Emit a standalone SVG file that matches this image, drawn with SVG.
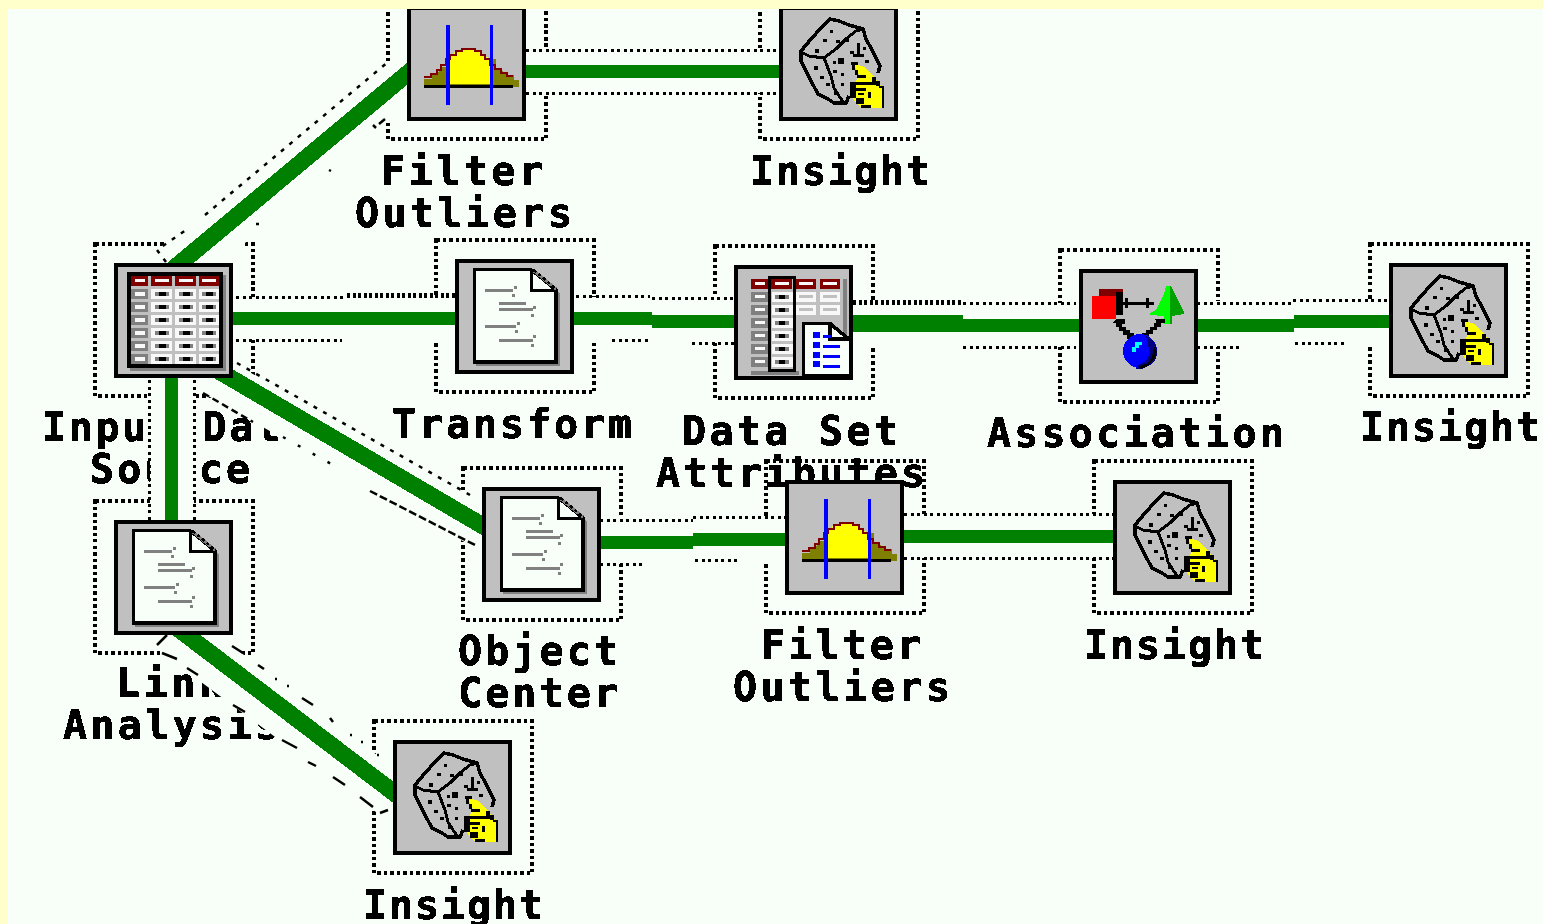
<svg xmlns="http://www.w3.org/2000/svg" width="1543" height="924" viewBox="0 0 1543 924">
<style>
.lb{font-family:"DejaVu Sans Mono","Liberation Mono",monospace;font-weight:bold;font-size:40px;fill:#000;stroke:#000;stroke-width:.7;filter:url(#px)}
.box{fill:#c0c0c0;stroke:#000;stroke-width:4}
.dr{fill:none;stroke:#000;stroke-width:3.5;stroke-dasharray:3.5 3;shape-rendering:crispEdges}
.dl{fill:none;stroke:#000;stroke-width:3;stroke-dasharray:3 3.5;shape-rendering:crispEdges}
.dn{fill:none;stroke:#000;stroke-width:5;stroke-dasharray:3 2.5;shape-rendering:crispEdges}
.sg{fill:none;stroke:#000;stroke-width:2.5}
.bd{fill:#f8fff8;stroke:none}
.gr{fill:#008000;stroke:none}
.gl{fill:none;stroke:#008000;stroke-width:17;shape-rendering:crispEdges}
.ic{shape-rendering:crispEdges}
</style>
<defs>
<filter id="px" x="-5%" y="-10%" width="110%" height="120%"><feComponentTransfer><feFuncA type="discrete" tableValues="0 1"/></feComponentTransfer></filter>
<rect id="dot" class="dr" x="-20" y="-20" width="158" height="152"/>
<rect id="frame" class="box ic" x="1" y="1" width="115" height="111"/>
<g id="row1"><rect x="16" width="17" height="10" fill="#808080"/><rect x="20" y="3" width="10" height="4" fill="#f8f8f8"/><rect x="36" width="21" height="10" fill="#f8f8f8"/><rect x="60" width="21" height="10" fill="#f8f8f8"/><rect x="84" width="20" height="10" fill="#f8f8f8"/><g id="dash"><rect x="40" y="3" width="14" height="4" fill="#808080"/><rect x="44" y="3" width="7" height="4" fill="#000"/></g><use href="#dash" x="24"/><use href="#dash" x="47"/></g>
<g id="table" class="ic"><use href="#frame"/>
<rect x="15" y="11" width="96" height="96" fill="#808080"/><rect x="12" y="8" width="96" height="96" fill="#000"/><rect x="16" y="12" width="88" height="88" fill="#c0c0c0"/>
<rect x="16" y="12" width="17" height="10" fill="#800000"/><rect x="36" y="12" width="21" height="10" fill="#800000"/><rect x="60" y="12" width="21" height="10" fill="#800000"/><rect x="84" y="12" width="20" height="10" fill="#800000"/>
<rect x="20" y="15" width="10" height="3" fill="#f8f8f8"/><rect x="40" y="15" width="14" height="3" fill="#f8f8f8"/><rect x="64" y="15" width="14" height="3" fill="#f8f8f8"/><rect x="87" y="15" width="14" height="3" fill="#f8f8f8"/>
<use href="#row1" y="25"/><use href="#row1" y="38"/><use href="#row1" y="51"/><use href="#row1" y="64"/><use href="#row1" y="77"/><use href="#row1" y="90"/>
</g>
<g id="doc" class="ic"><use href="#frame"/>
<path d="M20 14H75L104 33V106H20Z" fill="#808080"/>
<path d="M18.500 9.500H75L100 30V102H18.500Z" fill="#f8fff8" stroke="#000" stroke-width="3.400"/>
<path d="M75 9.500V30H100" fill="none" stroke="#000" stroke-width="3"/>
<path d="M78 11L100 29" fill="none" stroke="#808080" stroke-width="3"/>
<path d="M78 10L100 29" fill="none" stroke="#000" stroke-width="2.500" stroke-dasharray="3 3"/>
<path d="M29 29h28v3h-28zM43 42h27v3h-27zM43 48h34v3h-34zM29 65h31v3h-31zM43 79h34v3h-34zM58 26h3v3h-3zM56 34h3v3h-3zM77 46h3v3h-3zM75 54h3v3h-3zM61 62h3v3h-3zM59 70h3v3h-3zM77 75h3v3h-3zM75 84h3v3h-3z" fill="#808080"/>
</g>
<g id="bell" class="ic"><use href="#frame"/>
<path d="M16 72h8v-6h6l4-6h4v-8l8-4h6v-4h14v3h6l4 5h12v11h6l4 5h8v5h5v7H16Z" fill="#808000"/>
<path d="M38 77V52l4-4h4v-3h6v-2l14-1v3h6l5 5 5 1v26Z" fill="#ffff00"/>
<path d="M16 70h7v-3h6v-4h4v-5h5v-6h4v-4h6v-4h6v-2h13v2h6v4h4v4h5v6h5v4h6v4h6v3h6" fill="none" stroke="#800000" stroke-width="2.500"/>
<rect x="16" y="78" width="89" height="3" fill="#000"/>
<rect x="38" y="18" width="4" height="80" fill="#0000ff"/><rect x="82" y="18" width="3" height="80" fill="#0000ff"/>
</g>
<g id="dice" class="ic"><use href="#frame"/>
<path d="M69 89L66 96H54L48 92 38 87 31 74 26 64 21 54V44L31 32 41 21 50 12 59 14 69 18 83 22 86 32 91 41 96 51 100 59 98 66" fill="none" stroke="#000" stroke-width="3.500"/>
<path d="M21 45L29 49 44 51 56 42 66 32 76 24 83 22M44 51L51 69 54 81 59 89 64 96" fill="none" stroke="#000" stroke-width="3"/>
<path d="M77 36h3v11h-3zM73 47h11v3h-11zM58 51h6v6h-6zM50 23h3v3h-3zM43 32h4v3h-4zM56 33h4v3h-4zM35 42h4v4h-4zM66 32h3v3h-3zM70 44h4v3h-4zM85 53h4v3h-4zM53 54h3v3h-3zM34 59h4v4h-4zM53 63h4v3h-4zM61 66h3v3h-3zM40 69h4v3h-4zM61 76h3v3h-3zM46 76h4v3h-4zM54 85h3v3h-3zM83 40h3v3h-3z" fill="#000"/>
<path d="M73 56L84 60 96 72 103 82V101H81L74 93 71 84 76 74 79 68Z" fill="#ffff00"/>
<path d="M71 55h7v3h-7zM72 58h3v5h-3zM75 63h3v5h-3zM77 68h9v3h-9zM74 75h25v3H74zM70 75h6v16h-6zM76 91h8v6h-8zM81 98h10v3H81zM76 81h10v3H76zM78 86h6v2h-6zM88 85h3v6h-3zM92 70h4v5h-4zM96 74h4v5h-4zM99 79h5v22h-2V81h-3z" fill="#000"/>
</g>
<g id="dataset" class="ic"><use href="#frame"/>
<rect x="16" y="13" width="17" height="10" fill="#800000"/><rect x="33" y="13" width="24" height="10" fill="#800000"/><rect x="61" y="13" width="20" height="10" fill="#800000"/><rect x="85" y="13" width="20" height="10" fill="#800000"/>
<path d="M20 16h10v3H20zM40 16h14v3H40zM64 16h14v3H64zM88 16h14v3H88z" fill="#f8f8f8"/>
<rect x="108" y="13" width="4" height="60" fill="#808080"/>
<rect x="16" y="105" width="48" height="4" fill="#808080"/>
<g id="dr"><rect x="16" y="26" width="17" height="10" fill="#808080"/><rect x="20" y="29" width="10" height="3" fill="#f8f8f8"/><rect x="37" y="26" width="21" height="10" fill="#f8f8f8"/><rect x="40" y="29" width="14" height="4" fill="#808080"/><rect x="44" y="29" width="6" height="4" fill="#000"/></g>
<use href="#dr" y="13"/><use href="#dr" y="26"/><use href="#dr" y="39"/><use href="#dr" y="52"/><use href="#dr" y="65"/>
<path d="M61 26h20v10H61zM85 26h20v10H85zM61 39h20v10H61zM85 39h20v10H85z" fill="#f8f8f8"/>
<path d="M64 29h14v3H64zM88 29h14v3H88zM64 42h14v3H64zM88 42h14v3H88zM61 62h6v3h-6zM61 75h6v3h-6zM61 88h6v3h-6z" fill="#c0c0c0"/>
<rect x="34.500" y="11.500" width="25" height="93" fill="none" stroke="#000" stroke-width="3.500"/>
<path d="M68.500 57.500H95L116 75V110H68.500Z" fill="#f8fff8" stroke="#000" stroke-width="3.500"/>
<path d="M95 57V73H116" fill="none" stroke="#000" stroke-width="3.500"/>
<path d="M98 60L114 72" fill="none" stroke="#000" stroke-width="2.500" stroke-dasharray="3 3"/>
<path d="M78 66h7v6h-7zM78 76h7v6h-7zM78 86h7v6h-7zM78 95h7v6h-7zM88 69h8v3h-8zM88 79h17v3H88zM88 89h17v3H88zM88 99h17v3H88z" fill="#0000ff"/>
</g>
<g id="assoc" class="ic"><use href="#frame"/>
<path d="M19 26V19H43V26Z" fill="#800000"/><rect x="12" y="26" width="24" height="23" fill="#ff0000"/><rect x="36" y="22" width="7" height="23" fill="#000"/>
<path d="M43 32h31v3H43zM45 28h3v10h-3zM66 28h3v10h-3z" fill="#000"/>
<path d="M86 16h5l4 8 4 8 4 8 1 2v2l-12 2v8h-8v-8l-14-1v-2l6-3 4-8 4-8z" fill="#00ff00"/>
<path d="M91 16l4 8 4 8 4 8 1 2v2l-12 2v8h-2V16z" fill="#008000" opacity=".75"/>
<path d="M36 49h9v5h-3v3h4v3h4v3h4v6h-7v-4h-4v-4h-4v-4h-3v-4h-3zM74 49h11v4h-4v4h-4v3h-4v4h-4v5h-7v-6h4v-3h4v-3h4v-4h2v-3z" fill="#000"/>
<circle cx="60" cy="81" r="17" fill="#0000ff"/>
<path d="M66 66a17 17 0 0 1 6 28l-10 5h-6l2-4 8-4 4-8z" fill="#000080"/>
<path d="M74 76l3 6-3 8-8 7-6 2v-3l8-3 4-6z" fill="#000"/>
<path d="M55 72h7v3h-3v3h-3v4h-4v-5h3z" fill="#00ffff"/>
</g>
<clipPath id="noBoxes"><path clip-rule="evenodd" d="M0 0H1543V924H0ZM407 6h119v115h-119ZM779 6h119v115h-119ZM114 263h119v115h-119ZM455 259h119v115h-119ZM734 265h119v115h-119ZM1079 269h119v115h-119ZM1389 263h119v115h-119ZM482 487h119v115h-119ZM785 480h119v115h-119ZM1113 480h119v115h-119ZM114 520h119v115h-119ZM393 740h119v115h-119Z"/></clipPath>
</defs>
<rect id="page" width="1543" height="924" fill="#ffffcc"/>
<rect id="canvas" x="8" y="9" width="1535" height="915" fill="#f8fff8"/>

<g id="node-filter-top"><use href="#dot" x="408" y="7"/><use href="#bell" x="408" y="7"/><text class="lb" x="381" y="185" textLength="162">Filter</text><text class="lb" x="355" y="227" textLength="217">Outliers</text></g>
<g id="node-insight-top"><use href="#dot" x="780" y="7"/><use href="#dice" x="780" y="7"/><text class="lb" x="750" y="185" textLength="180">Insight</text></g>
<g id="node-input"><use href="#dot" x="115" y="264"/><use href="#table" x="115" y="264"/><text class="lb" x="42" y="441" textLength="265">Input Data</text><text class="lb" x="90" y="483" textLength="160">Source</text></g>
<g id="node-transform"><use href="#dot" x="456" y="260"/><use href="#doc" x="456" y="260"/><text class="lb" x="392" y="438" textLength="240">Transform</text></g>
<g id="node-dataset"><use href="#dot" x="735" y="266"/><use href="#dataset" x="735" y="266"/><text class="lb" x="682" y="445" textLength="216">Data Set</text><text class="lb" x="656" y="487" textLength="269">Attributes</text></g>
<g id="node-association"><use href="#dot" x="1080" y="270"/><use href="#assoc" x="1080" y="270"/><text class="lb" x="987" y="447" textLength="297">Association</text></g>
<g id="node-insight-right"><use href="#dot" x="1390" y="264"/><use href="#dice" x="1390" y="264"/><text class="lb" x="1360" y="441" textLength="180">Insight</text></g>
<g id="node-object"><use href="#dot" x="483" y="488"/><use href="#doc" x="483" y="488"/><text class="lb" x="458" y="665" textLength="160">Object</text><text class="lb" x="458" y="707" textLength="160">Center</text></g>
<g id="node-filter-mid"><use href="#dot" x="786" y="481"/><use href="#bell" x="786" y="481"/><text class="lb" x="761" y="659" textLength="160">Filter</text><text class="lb" x="733" y="701" textLength="217">Outliers</text></g>
<g id="node-insight-mid"><use href="#dot" x="1114" y="481"/><use href="#dice" x="1114" y="481"/><text class="lb" x="1084" y="659" textLength="180">Insight</text></g>
<g id="node-link"><use href="#dot" x="115" y="521"/><use href="#doc" x="115" y="521"/><text class="lb" x="116" y="697" textLength="107">Link</text><text class="lb" x="63" y="739" textLength="216">Analysis</text></g>
<g id="node-insight-bottom"><use href="#dot" x="394" y="741"/><use href="#dice" x="394" y="741"/><text class="lb" x="363" y="919" textLength="180">Insight</text></g>

<g id="connectors" clip-path="url(#noBoxes)">
<g id="bands">
<path class="bd" d="M165 264L157 250L388 62H408V120H380L222 264Z"/>
<path class="bd" d="M233 363L470 495H483V548H475L203 393L190 378H233Z"/>
<path class="bd" d="M165 634H232V646L377 755H394V815H380L162 653Z"/>
<rect class="bd" x="150" y="377" width="44" height="144"/>
<rect class="bd" x="233" y="297" width="223" height="43"/>
<rect class="bd" x="574" y="297" width="161" height="46"/>
<rect class="bd" x="853" y="303" width="227" height="44"/>
<rect class="bd" x="1198" y="301" width="192" height="46"/>
<rect class="bd" x="601" y="518" width="185" height="46"/>
<rect class="bd" x="904" y="514" width="210" height="44"/>
<rect class="bd" x="526" y="50" width="254" height="43"/>
</g>
<g id="dotted">
<path class="dl" d="M236 297H347M236 340H342M576 296H650M652 298H735M612 340H650M692 343H735M963 303H1076M963 347H1076M1197 303H1293M1293 300H1390M1197 347H1243M1295 343H1345M600 520H693M693 517H786M600 564H646M695 560H741M904 514H1114M904 558H1114M526 50H780M526 93H780M149 380V520M194 380V520"/>
<path class="dn" d="M347 295H456M853 302H962"/>
<path class="sg" stroke-dasharray="4 7" d="M166 262L157 250L189 228M205 215L388 62"/>
<path class="sg" d="M373 125l3 3M385 119l-6 5M256 224h3M329 170l2 1"/>
<path class="sg" stroke-dasharray="4 7" d="M237 363L470 495"/>
<path class="sg" stroke-dasharray="7 4" d="M203 393L253 422"/>
<path class="sg" stroke-dasharray="3 14" d="M283 437L333 465"/>
<path class="sg" stroke-dasharray="8 3" d="M370 491L475 545"/>
<path class="sg" d="M157 645l10-10M162 653l15 6M187 668l11 7M233 705l12 7M282 740l15 8M308 762l8 4M333 777l12 8M360 797l13 10M380 813l8-3M232 646l11 7M258 665l6 4M275 679h2M287 686h2M302 698l11 7M330 718l3 4M350 735h2M361 742h2M377 755h2"/>
</g>
<g id="lines">
<path class="gl" d="M172 270L420 63"/>
<path class="gl" d="M212 367L495 533"/>
<path class="gl" d="M172 624L410 805"/>
<rect class="gr" x="165" y="377" width="13" height="144"/>
<rect class="gr" x="233" y="312" width="223" height="13"/>
<rect class="gr" x="574" y="312" width="78" height="13"/>
<rect class="gr" x="652" y="315" width="83" height="13"/>
<rect class="gr" x="853" y="315" width="110" height="17"/>
<rect class="gr" x="963" y="319" width="117" height="13"/>
<rect class="gr" x="1198" y="319" width="96" height="13"/>
<rect class="gr" x="1294" y="315" width="96" height="13"/>
<rect class="gr" x="601" y="536" width="92" height="13"/>
<rect class="gr" x="693" y="533" width="93" height="13"/>
<rect class="gr" x="904" y="530" width="210" height="13"/>
<rect class="gr" x="526" y="65" width="254" height="13"/>
</g>
</g>
<rect id="top-strip" width="1543" height="9" fill="#ffffcc"/>
</svg>
